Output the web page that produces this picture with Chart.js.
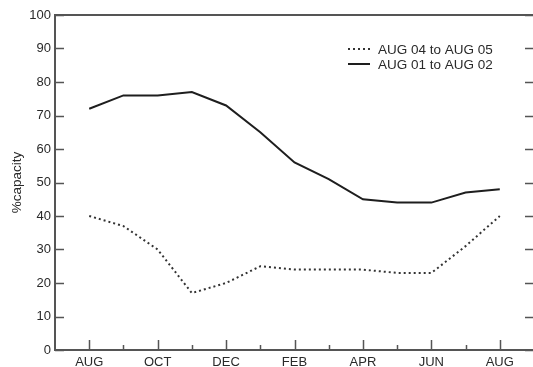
<!DOCTYPE html>
<html>
<head>
<meta charset="utf-8">
<script src="https://cdn.jsdelivr.net/npm/chart.js@4/dist/chart.umd.min.js"></script>
<style>
  html, body { margin: 0; padding: 0; background: #fff; width: 533px; height: 367px; overflow: hidden; }
  canvas { display: block; }
</style>
</head>
<body>
<canvas id="c" width="540" height="367"></canvas>
<script>
// Month sequence, August through the following August
const months = ['AUG', 'SEP', 'OCT', 'NOV', 'DEC', 'JAN', 'FEB', 'MAR', 'APR', 'MAY', 'JUN', 'JUL', 'AUG'];
// Reservoir storage, % of capacity
const season0405 = [40, 37, 30, 17, 20, 25, 24, 24, 24, 23, 23, 31, 40];
const season0102 = [72, 76, 76, 77, 73, 65, 56, 51, 45, 44, 44, 47, 48];
const seriesLabels = ['AUG 04 to AUG 05', 'AUG 01 to AUG 02'];
const yTicks = [0, 10, 20, 30, 40, 50, 60, 70, 80, 90, 100];

const FONT = '"Liberation Sans", Arial, Helvetica, sans-serif';
const TEXT = '#2a2a2a';
const AXIS = '#555';

const toPoints = vals => vals.map((v, i) => ({ x: i, y: v }));

// Inward ticks, top border and in-plot legend
const frame = {
  id: 'frame',
  afterDraw(chart) {
    const ctx = chart.ctx;
    const a = chart.chartArea;
    const xs = chart.scales.x, ys = chart.scales.y;
    ctx.save();
    ctx.strokeStyle = AXIS;
    ctx.lineWidth = 2;
    ctx.beginPath();
    ctx.moveTo(a.left, a.top);
    ctx.lineTo(a.right, a.top);
    ctx.stroke();

    ctx.lineWidth = 1.5;
    ctx.beginPath();
    yTicks.forEach(v => {
      const y = Math.round(ys.getPixelForValue(v)) + 0.5;
      ctx.moveTo(a.left, y); ctx.lineTo(a.left + 9, y);
      ctx.moveTo(a.right, y); ctx.lineTo(a.right - 9, y);
    });
    months.forEach((m, i) => {
      const x = Math.round(xs.getPixelForValue(i)) + 0.5;
      const len = i % 2 === 0 ? 10 : 5;
      ctx.moveTo(x, a.bottom); ctx.lineTo(x, a.bottom - len);
    });
    ctx.stroke();

    // legend
    const lx = 348, tx = 378, rows = [49, 64];
    chart.data.datasets.forEach((ds, k) => {
      const y = rows[k];
      ctx.strokeStyle = ds.borderColor;
      ctx.lineWidth = ds.borderWidth;
      ctx.setLineDash(ds.borderDash || []);
      ctx.beginPath();
      ctx.moveTo(lx, y); ctx.lineTo(lx + 22, y);
      ctx.stroke();
      ctx.setLineDash([]);
      ctx.fillStyle = TEXT;
      ctx.font = '13.5px ' + FONT;
      ctx.textBaseline = 'middle';
      ctx.textAlign = 'left';
      ctx.fillText(ds.label, tx, y + 1);
    });
    ctx.restore();
  }
};

new Chart(document.getElementById('c'), {
  type: 'line',
  data: {
    datasets: [
      {
        label: seriesLabels[0],
        data: toPoints(season0405),
        borderColor: '#333',
        borderWidth: 2,
        borderDash: [2, 3],
        pointRadius: 0,
        tension: 0,
        fill: false
      },
      {
        label: seriesLabels[1],
        data: toPoints(season0102),
        borderColor: '#1e1e1e',
        borderWidth: 2,
        pointRadius: 0,
        tension: 0,
        fill: false
      }
    ]
  },
  options: {
    responsive: false,
    animation: false,
    devicePixelRatio: 1,
    layout: { padding: { left: 0, top: 15, right: 6, bottom: 0 } },
    plugins: { legend: { display: false }, tooltip: { enabled: false } },
    scales: {
      x: {
        type: 'linear',
        min: -1,
        max: 13,
        afterFit: s => { s.height = 17; },
        grid: { display: false, drawTicks: false },
        border: { display: true, color: AXIS, width: 2 },
        ticks: {
          stepSize: 1,
          autoSkip: false,
          maxRotation: 0,
          padding: 5,
          color: TEXT,
          font: { family: FONT, size: 13 },
          callback: v => (v >= 0 && v < months.length && v % 2 === 0) ? months[v] : ''
        }
      },
      y: {
        min: 0,
        max: 100,
        afterFit: s => { s.width = 55; },
        grid: { display: false, drawTicks: false },
        border: { display: true, color: AXIS, width: 2 },
        ticks: {
          stepSize: 10,
          padding: 4,
          color: TEXT,
          font: { family: FONT, size: 13 }
        },
        title: {
          display: true,
          text: '%capacity',
          color: TEXT,
          font: { family: FONT, size: 13.5 },
          padding: { top: 9, bottom: 0 }
        }
      }
    }
  },
  plugins: [frame]
});
</script>
</body>
</html>
